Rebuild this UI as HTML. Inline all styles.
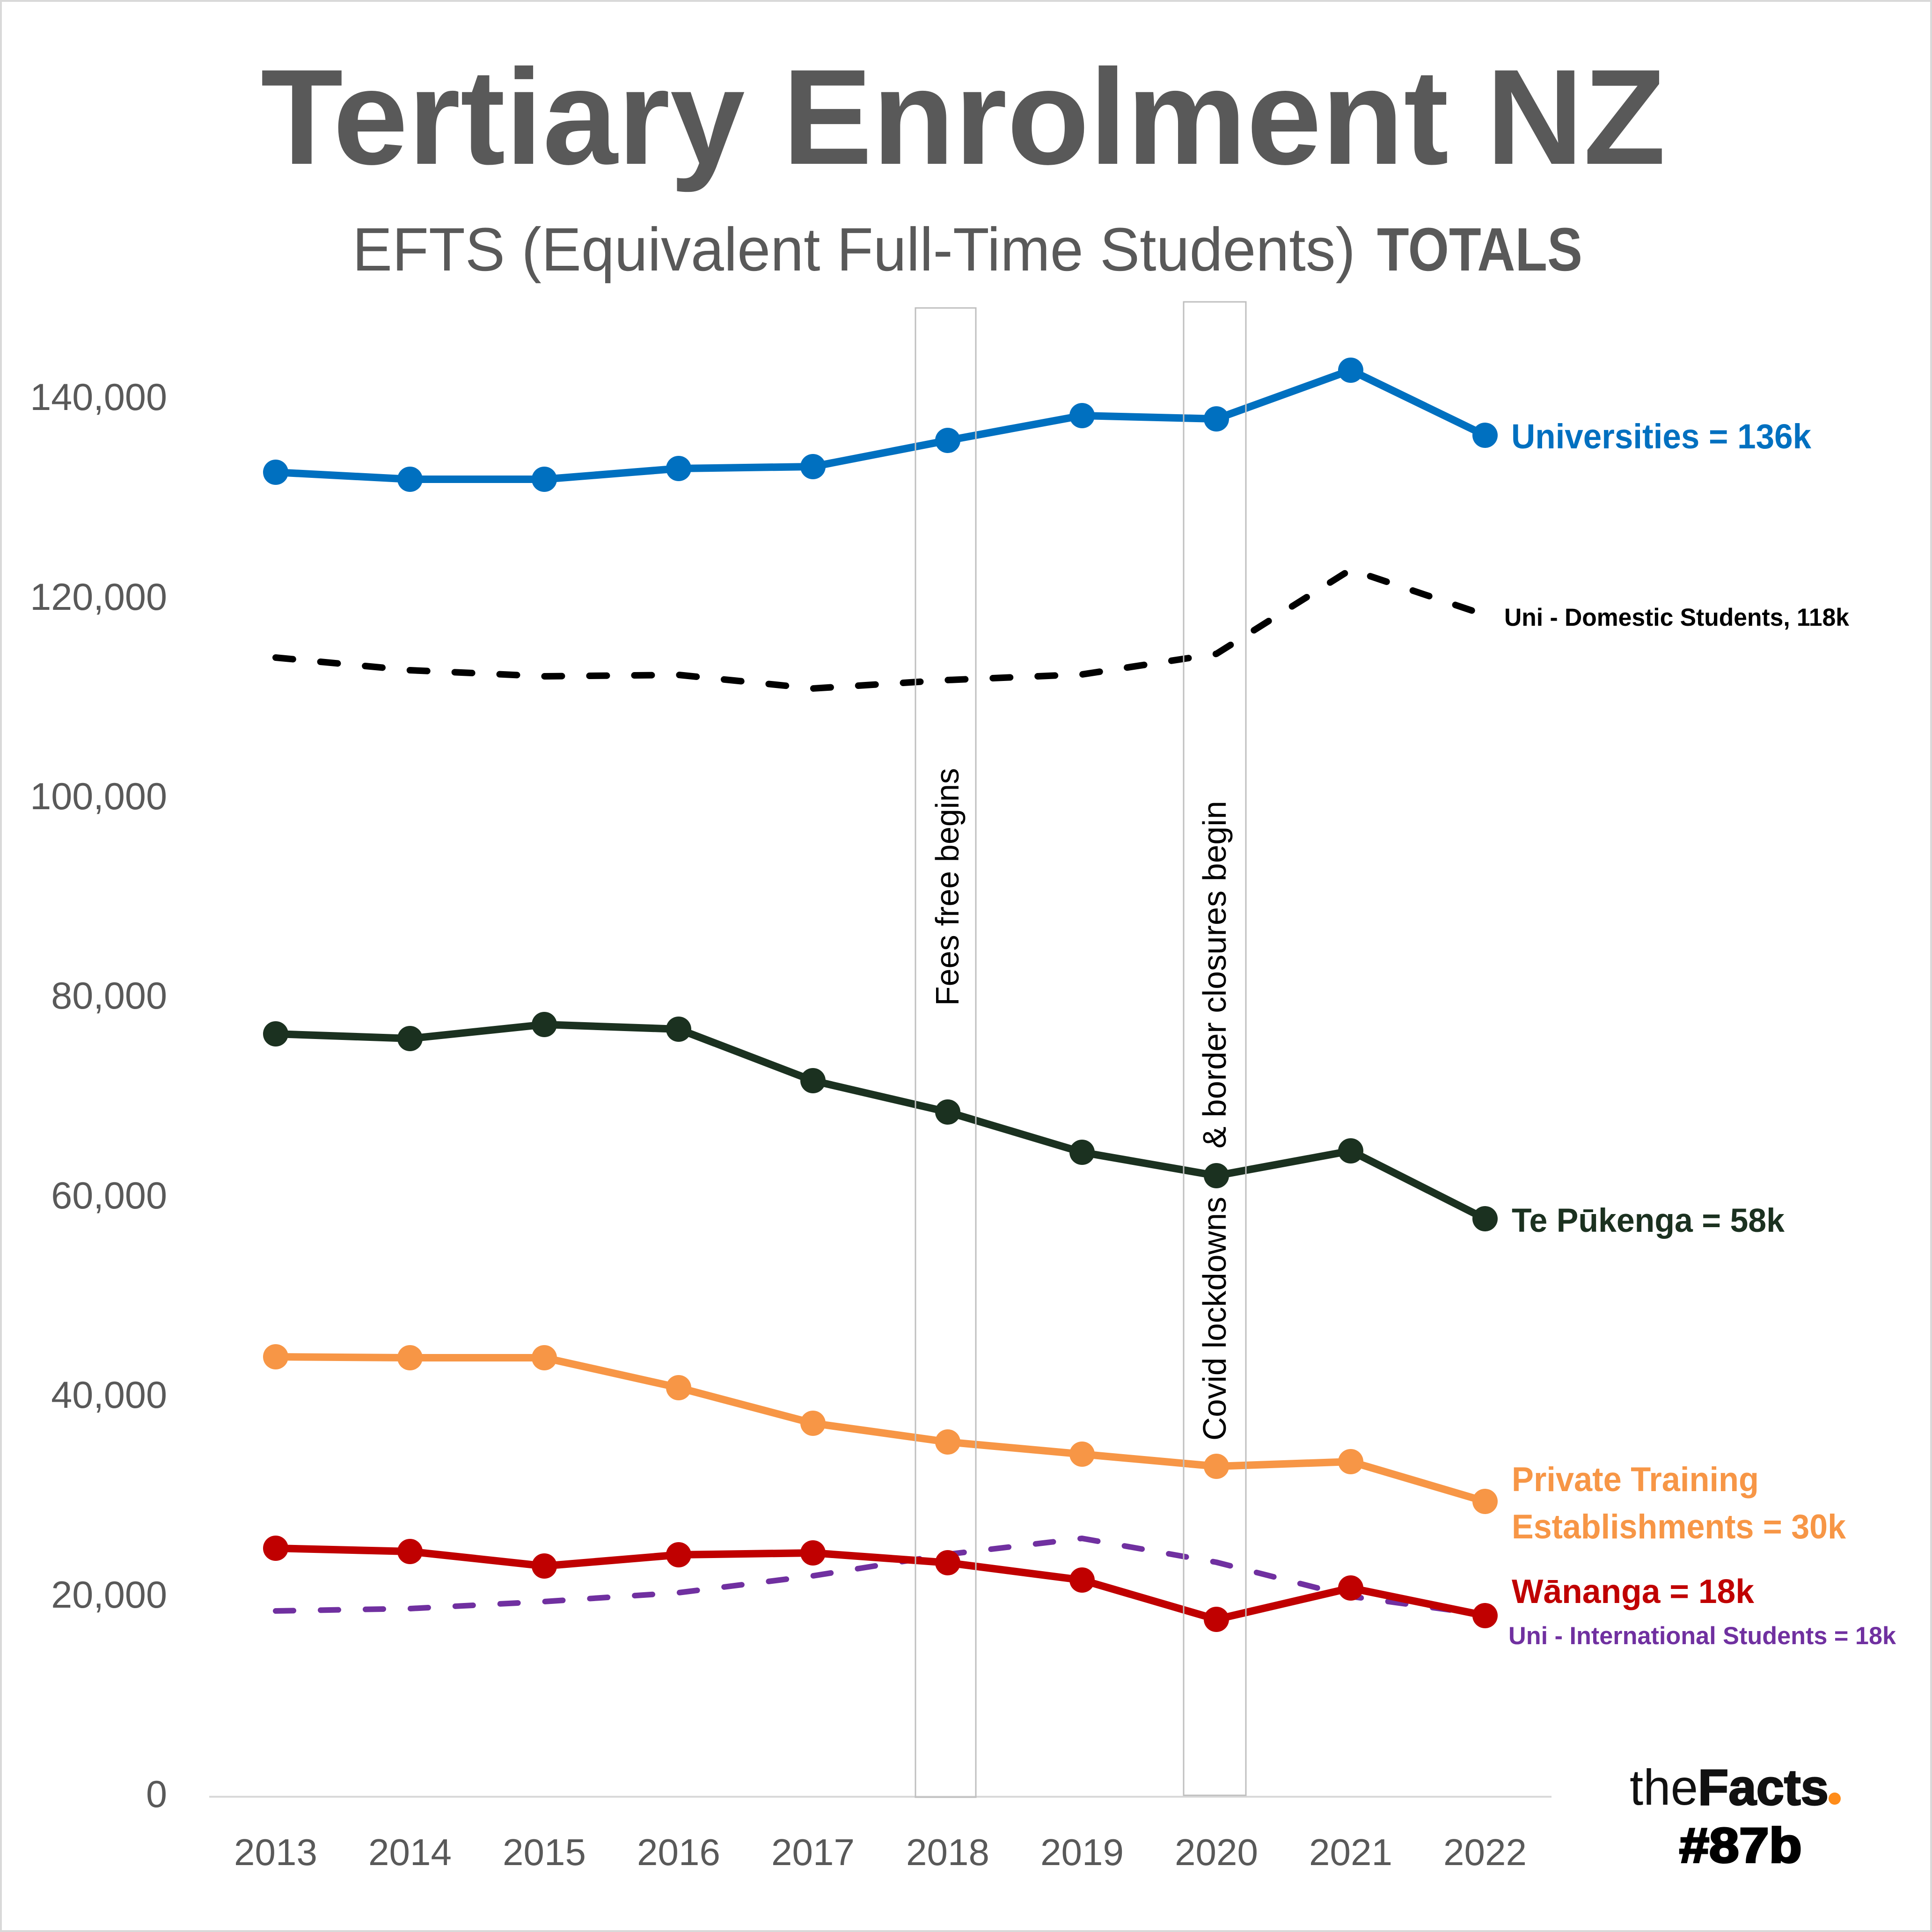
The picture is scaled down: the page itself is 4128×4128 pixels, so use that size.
<!DOCTYPE html>
<html>
<head>
<meta charset="utf-8">
<style>
  html, body { margin: 0; padding: 0; background: #ffffff; }
  svg { display: block; }
  text { font-family: "Liberation Sans", "DejaVu Sans", sans-serif; }
</style>
</head>
<body>
<svg xmlns="http://www.w3.org/2000/svg" width="4128" height="4128" viewBox="0 0 4128 4128">
  <!-- background & border -->
  <rect x="0" y="0" width="4128" height="4128" fill="#ffffff"/>
  <rect x="2" y="2" width="4124" height="4124" fill="none" stroke="#d9d9d9" stroke-width="4"/>

  <!-- Title -->
  <text x="557" y="350" font-size="290" font-weight="bold" fill="#595959" textLength="3002" lengthAdjust="spacingAndGlyphs">Tertiary Enrolment NZ</text>
  <!-- Subtitle -->
  <text x="753" y="578" font-size="131" fill="#595959" textLength="2143" lengthAdjust="spacingAndGlyphs">EFTS (Equivalent Full-Time Students)</text>
  <text x="2942" y="578" font-size="131" font-weight="bold" fill="#595959" textLength="439" lengthAdjust="spacingAndGlyphs">TOTALS</text>

  <!-- Y axis labels -->
  <g font-size="81" fill="#595959" text-anchor="end">
    <text x="357" y="3861">0</text>
    <text x="357" y="3435">20,000</text>
    <text x="357" y="3008">40,000</text>
    <text x="357" y="2582">60,000</text>
    <text x="357" y="2155">80,000</text>
    <text x="357" y="1729">100,000</text>
    <text x="357" y="1303">120,000</text>
    <text x="357" y="876">140,000</text>
  </g>

  <!-- X axis line -->
  <line x1="447" y1="3839" x2="3315" y2="3839" stroke="#d9d9d9" stroke-width="4"/>

  <!-- X axis labels -->
  <g font-size="80" fill="#595959" text-anchor="middle">
    <text x="589" y="3985">2013</text>
    <text x="876" y="3985">2014</text>
    <text x="1163" y="3985">2015</text>
    <text x="1450" y="3985">2016</text>
    <text x="1737" y="3985">2017</text>
    <text x="2025" y="3985">2018</text>
    <text x="2312" y="3985">2019</text>
    <text x="2599" y="3985">2020</text>
    <text x="2886" y="3985">2021</text>
    <text x="3173" y="3985">2022</text>
  </g>

  <!-- Purple dashed (International) -->
  <polyline fill="none" stroke="#7030a0" stroke-width="12" stroke-linecap="round" stroke-linejoin="round" stroke-dasharray="38 58"
    points="589,3442 876,3437 1163,3422 1450,3403 1737,3367 2025,3321 2312,3287 2599,3338 2886,3411 3173,3450"/>

  <!-- Black dashed (Domestic) -->
  <polyline fill="none" stroke="#000000" stroke-width="14" stroke-linecap="round" stroke-linejoin="round" stroke-dasharray="37 59"
    points="589,1405 876,1432 1163,1445 1450,1442 1737,1471 2025,1453 2312,1441 2599,1397 2886,1217 3173,1314"/>

  <!-- Rotated annotation texts -->
  <text transform="translate(2048,2149) rotate(-90)" font-size="70" fill="#000000" textLength="508" lengthAdjust="spacingAndGlyphs">Fees free begins</text>
  <text transform="translate(2619,3078) rotate(-90)" font-size="70" fill="#000000" textLength="521" lengthAdjust="spacingAndGlyphs">Covid lockdowns</text>
  <text transform="translate(2619,2454) rotate(-90)" font-size="70" fill="#000000" textLength="743" lengthAdjust="spacingAndGlyphs">&amp; border closures begin</text>

  <!-- Blue (Universities) -->
  <g fill="#0070c0">
    <polyline fill="none" stroke="#0070c0" stroke-width="16" stroke-linejoin="round"
      points="589,1009 876,1024 1163,1024 1450,1001 1737,997 2025,941 2312,888 2599,895 2886,791 3173,930"/>
    <circle cx="589" cy="1009" r="27"/><circle cx="876" cy="1024" r="27"/><circle cx="1163" cy="1024" r="27"/>
    <circle cx="1450" cy="1001" r="27"/><circle cx="1737" cy="997" r="27"/><circle cx="2025" cy="941" r="27"/>
    <circle cx="2312" cy="888" r="27"/><circle cx="2599" cy="895" r="27"/><circle cx="2886" cy="791" r="27"/>
    <circle cx="3173" cy="930" r="27"/>
  </g>

  <!-- Green (Te Pukenga) -->
  <g fill="#1b3120">
    <polyline fill="none" stroke="#1b3120" stroke-width="16" stroke-linejoin="round"
      points="589,2209 876,2219 1163,2189 1450,2199 1737,2309 2025,2376 2312,2462 2599,2512 2886,2459 3173,2604"/>
    <circle cx="589" cy="2209" r="27"/><circle cx="876" cy="2219" r="27"/><circle cx="1163" cy="2189" r="27"/>
    <circle cx="1450" cy="2199" r="27"/><circle cx="1737" cy="2309" r="27"/><circle cx="2025" cy="2376" r="27"/>
    <circle cx="2312" cy="2462" r="27"/><circle cx="2599" cy="2512" r="27"/><circle cx="2886" cy="2459" r="27"/>
    <circle cx="3173" cy="2604" r="27"/>
  </g>

  <!-- Orange (PTE) -->
  <g fill="#f79646">
    <polyline fill="none" stroke="#f79646" stroke-width="16" stroke-linejoin="round"
      points="589,2899 876,2901 1163,2901 1450,2965 1737,3041 2025,3081 2312,3107 2599,3133 2886,3123 3173,3208"/>
    <circle cx="589" cy="2899" r="27"/><circle cx="876" cy="2901" r="27"/><circle cx="1163" cy="2901" r="27"/>
    <circle cx="1450" cy="2965" r="27"/><circle cx="1737" cy="3041" r="27"/><circle cx="2025" cy="3081" r="27"/>
    <circle cx="2312" cy="3107" r="27"/><circle cx="2599" cy="3133" r="27"/><circle cx="2886" cy="3123" r="27"/>
    <circle cx="3173" cy="3208" r="27"/>
  </g>

  <!-- Red (Wananga) -->
  <g fill="#c00000">
    <polyline fill="none" stroke="#c00000" stroke-width="16" stroke-linejoin="round"
      points="589,3308 876,3315 1163,3346 1450,3322 1737,3318 2025,3339 2312,3376 2599,3460 2886,3393 3173,3452"/>
    <circle cx="589" cy="3308" r="27"/><circle cx="876" cy="3315" r="27"/><circle cx="1163" cy="3346" r="27"/>
    <circle cx="1450" cy="3322" r="27"/><circle cx="1737" cy="3318" r="27"/><circle cx="2025" cy="3339" r="27"/>
    <circle cx="2312" cy="3376" r="27"/><circle cx="2599" cy="3460" r="27"/><circle cx="2886" cy="3393" r="27"/>
    <circle cx="3173" cy="3452" r="27"/>
  </g>

  <!-- Annotation boxes -->
  <rect x="1956" y="658" width="129" height="3182" fill="none" stroke="#bfbfbf" stroke-width="3"/>
  <rect x="2529" y="645" width="133" height="3191" fill="none" stroke="#bfbfbf" stroke-width="3"/>

  <!-- Series labels -->
  <text x="3229" y="958" font-size="74" font-weight="bold" fill="#0070c0" textLength="641" lengthAdjust="spacingAndGlyphs">Universities = 136k</text>
  <text x="3214" y="1337" font-size="53" font-weight="bold" fill="#000000" textLength="737" lengthAdjust="spacingAndGlyphs">Uni - Domestic Students, 118k</text>
  <text x="3230" y="2632" font-size="71" font-weight="bold" fill="#1b3120" textLength="583" lengthAdjust="spacingAndGlyphs">Te Pūkenga = 58k</text>
  <text x="3230" y="3186" font-size="73" font-weight="bold" fill="#f79646" textLength="528" lengthAdjust="spacingAndGlyphs">Private Training</text>
  <text x="3230" y="3287" font-size="73" font-weight="bold" fill="#f79646" textLength="714" lengthAdjust="spacingAndGlyphs">Establishments = 30k</text>
  <text x="3230" y="3425" font-size="72" font-weight="bold" fill="#c00000" textLength="518" lengthAdjust="spacingAndGlyphs">Wānanga = 18k</text>
  <text x="3223" y="3513" font-size="53" font-weight="bold" fill="#7030a0" textLength="828" lengthAdjust="spacingAndGlyphs">Uni - International Students = 18k</text>

  <!-- Logo -->
  <text x="3482" y="3856" font-size="108" fill="#111111" textLength="146" lengthAdjust="spacingAndGlyphs">the</text>
  <text x="3628" y="3856" font-size="108" font-weight="bold" fill="#111111" stroke="#111111" stroke-width="3" textLength="279" lengthAdjust="spacingAndGlyphs">Facts</text>
  <circle cx="3920" cy="3843" r="13" fill="#ff8c1a"/>
  <text x="3588" y="3979" font-size="105" font-weight="bold" fill="#000000" stroke="#000000" stroke-width="4" textLength="262" lengthAdjust="spacingAndGlyphs">#87b</text>
</svg>
</body>
</html>
